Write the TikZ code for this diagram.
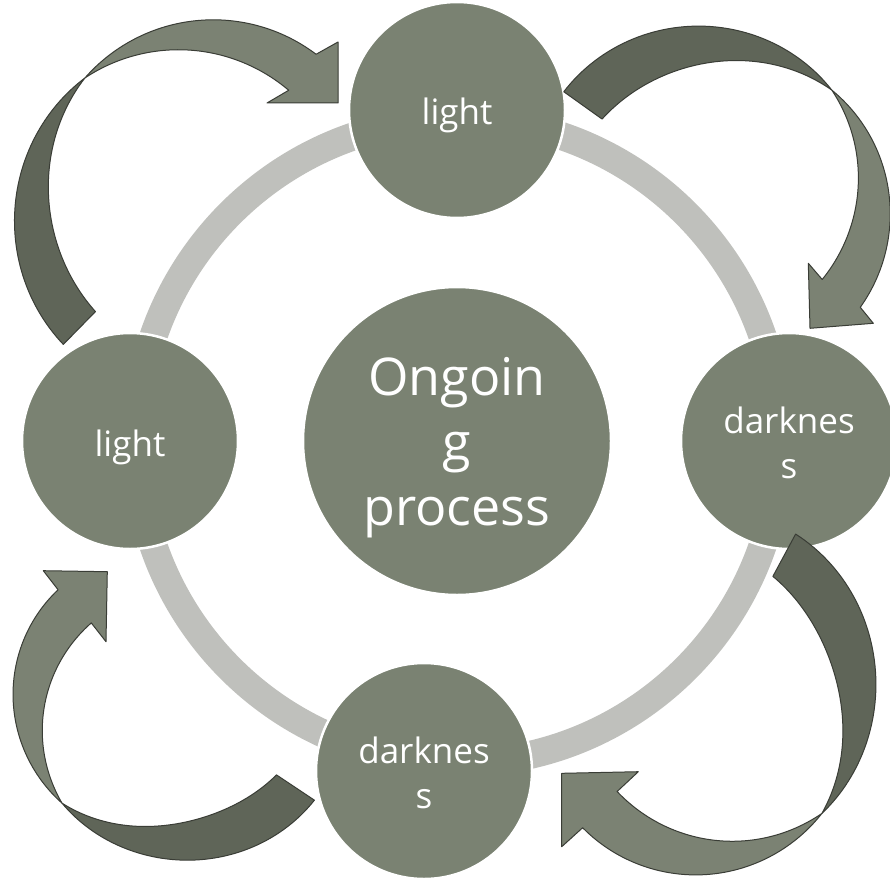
\documentclass[tikz,border=0pt]{standalone}
\usepackage{fontspec}
\setmainfont{Open Sans}
\usetikzlibrary{calc}
\definecolor{bubfill}{HTML}{7A8272}
\definecolor{ringgray}{HTML}{BFC0BC}
\definecolor{ribdarkc}{HTML}{5F6558}
\definecolor{riblightc}{HTML}{7B8273}
\definecolor{ribline}{HTML}{3A3D36}
% ribbon parameters: cx, cy, R0 (tail radius), R1 (head radius), width, tail angle, twist angle, head angle, dip
\newcommand\setrib[9]{\def\rcx{#1}\def\rcy{#2}\def\rra{#3}\def\rrb{#4}\def\rw{#5}\def\rta{#6}\def\rtt{#7}\def\rtm{#8}\def\rdip{#9}}
\newcommand\drawrib[1]{%
 \filldraw[ribdark]
  plot[domain=0:1,samples=60] ({\rcx+(\rra-\rdip*sin(180*\x)-\rw/2*sin(thA(\x)-\rtt))*cos(thA(\x))},{\rcy+(\rra-\rdip*sin(180*\x)-\rw/2*sin(thA(\x)-\rtt))*sin(thA(\x))})
  -- plot[domain=0:1,samples=60] ({\rcx+(\rra-\rdip*sin(180*(1-\x))+\rw/2*sin(thA(1-\x)-\rtt))*cos(thA(1-\x))},{\rcy+(\rra-\rdip*sin(180*(1-\x))+\rw/2*sin(thA(1-\x)-\rtt))*sin(thA(1-\x))})
  -- cycle;
 \filldraw[riblight]
  plot[domain=0:1,samples=60] ({\rcx+(rmB(\x)+\rw/2*sin(thB(\x)-\rtt))*cos(thB(\x))},{\rcy+(rmB(\x)+\rw/2*sin(thB(\x)-\rtt))*sin(thB(\x))})
  -- (#1o) -- (#1t) -- (#1i)
  -- plot[domain=0:1,samples=60] ({\rcx+(rmB(1-\x)-\rw/2*sin(thB(1-\x)-\rtt))*cos(thB(1-\x))},{\rcy+(rmB(1-\x)-\rw/2*sin(thB(1-\x)-\rtt))*sin(thB(1-\x))})
  -- cycle;
}
\newcommand\lbl[2]{\raisebox{#1pt}[0pt][0pt]{\begin{tabular}[t]{@{}c@{}}#2\end{tabular}}}
\begin{document}
\begin{tikzpicture}[x=1pt,y=-1pt,
  declare function={thA(\s)=\rta+(\rtt-\rta)*\s; thB(\s)=\rtt+(\rtm-\rtt)*\s; rmB(\s)=\rra+(\rrb-\rra)*\s;},
  bub/.style={circle, fill=bubfill, draw=white, line width=2.5pt, minimum size=216pt, inner sep=0pt, text=white, font=\fontsize{35}{45}\selectfont},
  hub/.style={bub, minimum size=308pt, font=\fontsize{52}{65}\selectfont},
  ribdark/.style={fill=ribdarkc, draw=ribline, line width=1pt, line join=round},
  riblight/.style={fill=riblightc, draw=ribline, line width=1pt, line join=round}]
\useasboundingbox (0,0) rectangle (890,880);
\fill[white] (0,0) rectangle (890,880);
% ring
\draw[ringgray, line width=28pt] (458,441) circle[radius=322];
% circles
\node[hub] (hub) at (457,441) {\lbl{46}{Ongoin\\g\\process}};
\node[bub] (ntop) at (457,110) {\lbl{-15}{light}};
\node[bub] (nright) at (789,441) {\lbl{8}{darknes\\s}};
\node[bub] (nbottom) at (424,771) {\lbl{8}{darknes\\s}};
\node[bub] (nleft) at (130,441) {\lbl{-15}{light}};
% arrow heads
\coordinate (a1o) at (338,42);   \coordinate (a1t) at (338,103);   \coordinate (a1i) at (267,103);
\coordinate (a2o) at (873.3,323.3); \coordinate (a2t) at (810,328.3); \coordinate (a2i) at (808.3,263.3);
\coordinate (a3o) at (561.7,846.7); \coordinate (a3t) at (561.7,773.3); \coordinate (a3i) at (638.3,771.7);
\coordinate (a4o) at (43.3,570.7); \coordinate (a4t) at (107.3,571.7); \coordinate (a4i) at (106,641.7);
% arrows
\setrib{200.2}{205.6}{172}{168}{46}{134.6}{227.9}{307.5}{4}\drawrib{a1}
\setrib{713.6}{199.4}{161}{158.5}{48}{215.7}{317.2}{396.4}{6}\drawrib{a2}
\setrib{706.4}{698.4}{163}{154}{50}{298.5}{404.9}{493.8}{12}\drawrib{a3}
\setrib{172.7}{704.9}{148}{139}{47}{33.9}{138.4}{225.2}{11}\drawrib{a4}
\end{tikzpicture}
\end{document}
